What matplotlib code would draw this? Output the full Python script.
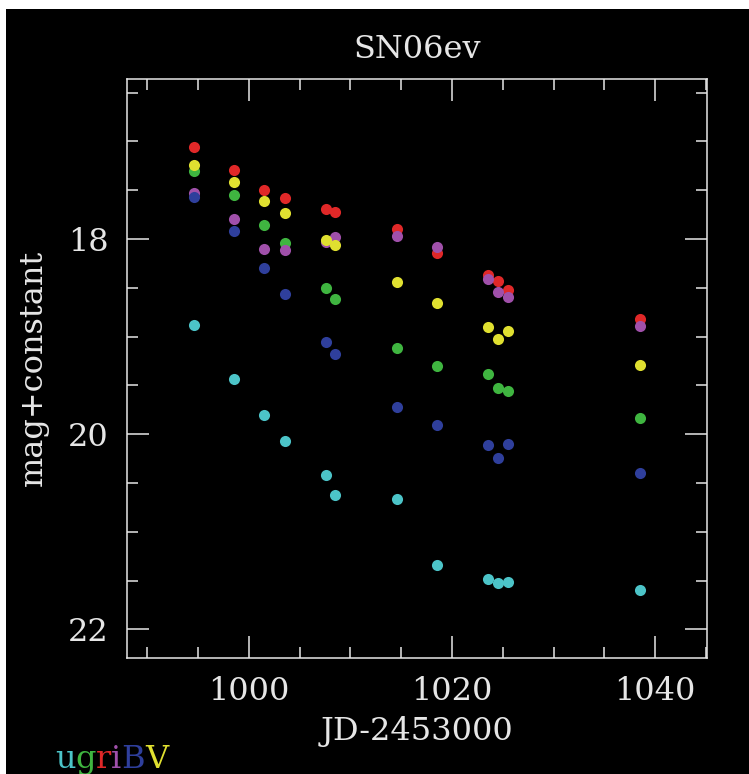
import matplotlib
matplotlib.use('Agg')
import matplotlib.pyplot as plt
from matplotlib.patches import Rectangle
from matplotlib.ticker import MultipleLocator

# epochs (JD-2453000) and magnitudes per band
jd = [994.6, 998.5, 1001.5, 1003.6, 1007.6, 1008.5,
      1014.6, 1018.5, 1023.5, 1024.5, 1025.5, 1038.5]
mag_u = [18.88, 19.43, 19.80, 20.07, 20.42, 20.62,
         20.66, 21.34, 21.48, 21.52, 21.51, 21.60]
mag_g = [17.30, 17.55, 17.86, 18.04, 18.50, 18.61,
         19.12, 19.30, 19.38, 19.53, 19.56, 19.83]
mag_r = [17.06, 17.29, 17.50, 17.58, 17.69, 17.72,
         17.90, 18.14, 18.37, 18.43, 18.52, 18.82]
mag_i = [17.53, 17.79, 18.10, 18.11, 18.03, 17.98,
         17.97, 18.08, 18.41, 18.54, 18.59, 18.89]
mag_B = [17.57, 17.92, 18.30, 18.56, 19.06, 19.18,
         19.72, 19.91, 20.11, 20.24, 20.10, 20.40]
mag_V = [17.24, 17.42, 17.61, 17.73, 18.01, 18.06,
         18.44, 18.66, 18.90, 19.02, 18.94, 19.29]

bands = ['u', 'g', 'r', 'i', 'B', 'V']
colors = {'u': '#4cc4c8', 'g': '#3fb540', 'r': '#e02828',
          'i': '#a050aa', 'B': '#2f3f9c', 'V': '#e0e030'}
mags = {'u': mag_u, 'g': mag_g, 'r': mag_r,
        'i': mag_i, 'B': mag_B, 'V': mag_V}

plt.rcParams['font.family'] = ['DejaVu Serif']
fg = '#e6e6e6'
fs = 23

fig = plt.figure(figsize=(7.49, 7.74), dpi=100, facecolor='white')
fig.patches.append(Rectangle((6 / 749, 0), 743 / 749, 765 / 774,
                             transform=fig.transFigure, facecolor='black',
                             edgecolor='none', zorder=-10))

ax = fig.add_axes([0.1696, 0.1503, 0.7743, 0.7476])
ax.set_facecolor('black')

for b in bands:
    ax.plot(jd, mags[b], 'o', color=colors[b], markersize=8, markeredgewidth=0)

ax.set_xlim(988, 1045.1)
ax.set_ylim(22.29, 16.36)
ax.xaxis.set_major_locator(MultipleLocator(20))
ax.xaxis.set_minor_locator(MultipleLocator(5))
ax.yaxis.set_major_locator(MultipleLocator(2))
ax.yaxis.set_minor_locator(MultipleLocator(0.5))

for s in ax.spines.values():
    s.set_color(fg)
    s.set_linewidth(1.1)
ax.tick_params(which='both', direction='in', top=True, right=True,
               colors=fg, width=1.1, labelsize=fs, labelcolor=fg)
ax.tick_params(which='major', length=16)
ax.tick_params(which='minor', length=8)
ax.tick_params(axis='x', pad=13)
ax.tick_params(axis='y', pad=13)

ax.set_title('SN06ev', color=fg, fontsize=fs, pad=15)
ax.set_xlabel('JD-2453000', color=fg, fontsize=fs, labelpad=7)
ax.set_ylabel('mag+constant', color=fg, fontsize=fs, labelpad=14)

# coloured band key in the lower left corner
fig.canvas.draw()
renderer = fig.canvas.get_renderer()
xpos = 55 / 749
for b in bands:
    t = fig.text(xpos, 0.008, b, color=colors[b], fontsize=fs,
                 va='baseline', ha='left')
    bb = t.get_window_extent(renderer)
    xpos += bb.width / fig.bbox.width

fig.savefig('out.png', dpi=100, facecolor=fig.get_facecolor())
